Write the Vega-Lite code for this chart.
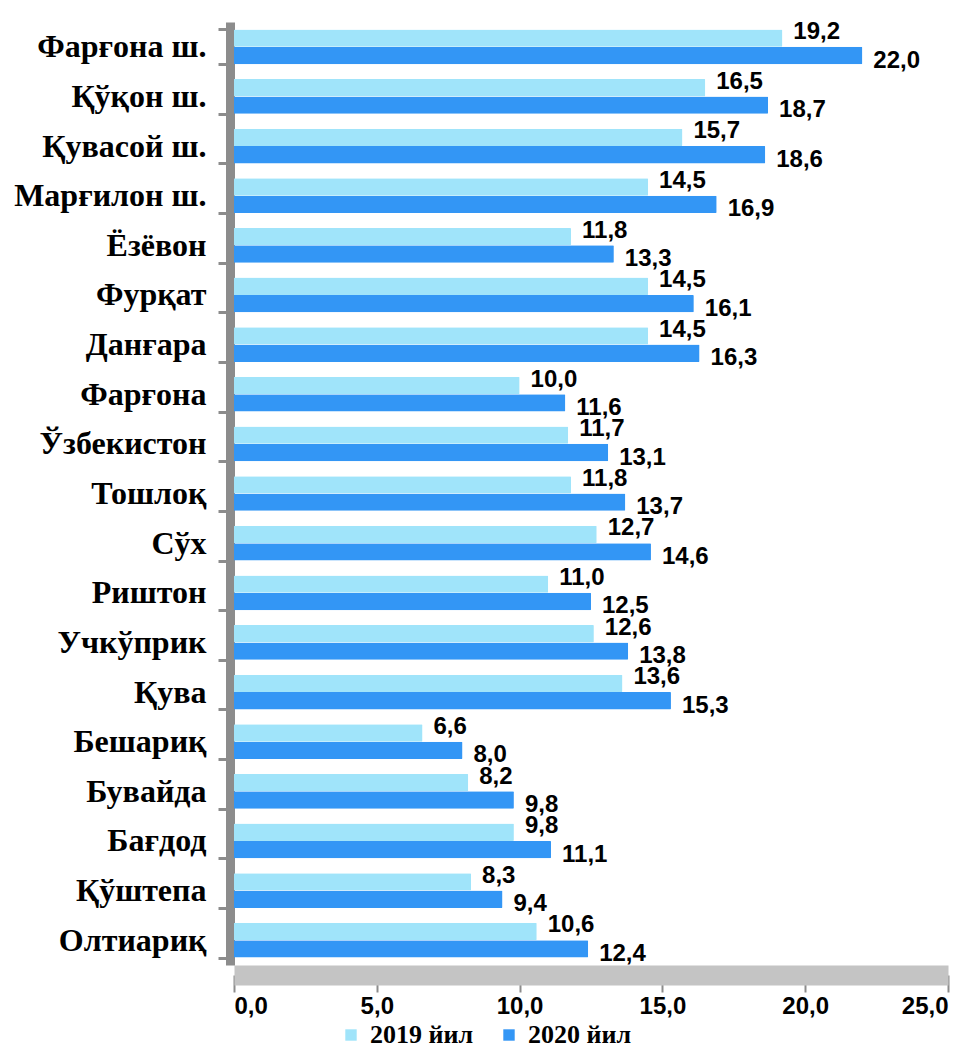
{
  "$schema": "https://vega.github.io/schema/vega-lite/v6.json",
  "width": 714,
  "height": 943,
  "autosize": {"type": "none"},
  "padding": {"left": 234, "top": 22, "right": 21, "bottom": 85},
  "config": {
    "view": {"stroke": null},
    "locale": {"number": {"decimal": ",", "thousands": " ", "grouping": [3], "currency": ["", ""]}}
  },
  "data": {"values": [
    {"region": "Фарғона ш.", "year": "2019 йил", "value": 19.2},
    {"region": "Фарғона ш.", "year": "2020 йил", "value": 22.0},
    {"region": "Қўқон ш.", "year": "2019 йил", "value": 16.5},
    {"region": "Қўқон ш.", "year": "2020 йил", "value": 18.7},
    {"region": "Қувасой ш.", "year": "2019 йил", "value": 15.7},
    {"region": "Қувасой ш.", "year": "2020 йил", "value": 18.6},
    {"region": "Марғилон ш.", "year": "2019 йил", "value": 14.5},
    {"region": "Марғилон ш.", "year": "2020 йил", "value": 16.9},
    {"region": "Ёзёвон", "year": "2019 йил", "value": 11.8},
    {"region": "Ёзёвон", "year": "2020 йил", "value": 13.3},
    {"region": "Фурқат", "year": "2019 йил", "value": 14.5},
    {"region": "Фурқат", "year": "2020 йил", "value": 16.1},
    {"region": "Данғара", "year": "2019 йил", "value": 14.5},
    {"region": "Данғара", "year": "2020 йил", "value": 16.3},
    {"region": "Фарғона", "year": "2019 йил", "value": 10.0},
    {"region": "Фарғона", "year": "2020 йил", "value": 11.6},
    {"region": "Ўзбекистон", "year": "2019 йил", "value": 11.7},
    {"region": "Ўзбекистон", "year": "2020 йил", "value": 13.1},
    {"region": "Тошлоқ", "year": "2019 йил", "value": 11.8},
    {"region": "Тошлоқ", "year": "2020 йил", "value": 13.7},
    {"region": "Сўх", "year": "2019 йил", "value": 12.7},
    {"region": "Сўх", "year": "2020 йил", "value": 14.6},
    {"region": "Риштон", "year": "2019 йил", "value": 11.0},
    {"region": "Риштон", "year": "2020 йил", "value": 12.5},
    {"region": "Учкўприк", "year": "2019 йил", "value": 12.6},
    {"region": "Учкўприк", "year": "2020 йил", "value": 13.8},
    {"region": "Қува", "year": "2019 йил", "value": 13.6},
    {"region": "Қува", "year": "2020 йил", "value": 15.3},
    {"region": "Бешариқ", "year": "2019 йил", "value": 6.6},
    {"region": "Бешариқ", "year": "2020 йил", "value": 8.0},
    {"region": "Бувайда", "year": "2019 йил", "value": 8.2},
    {"region": "Бувайда", "year": "2020 йил", "value": 9.8},
    {"region": "Бағдод", "year": "2019 йил", "value": 9.8},
    {"region": "Бағдод", "year": "2020 йил", "value": 11.1},
    {"region": "Қўштепа", "year": "2019 йил", "value": 8.3},
    {"region": "Қўштепа", "year": "2020 йил", "value": 9.4},
    {"region": "Олтиариқ", "year": "2019 йил", "value": 10.6},
    {"region": "Олтиариқ", "year": "2020 йил", "value": 12.4}
  ]},
  "encoding": {
    "y": {
      "field": "region", "type": "nominal", "sort": null, "title": null,
      "scale": {"paddingInner": 0.3, "paddingOuter": 0.15},
      "axis": {
        "offset": 4, "domainColor": "#8C8C8C", "domainWidth": 9,
        "tickBand": "extent", "tickColor": "#8C8C8C", "tickSize": 12, "tickWidth": 3,
        "labelFont": "Liberation Serif", "labelFontWeight": "bold", "labelFontSize": 32,
        "labelColor": "#000000", "labelPadding": 12, "labelLimit": 300
      }
    },
    "x": {
      "field": "value", "type": "quantitative", "title": null,
      "scale": {"domain": [0, 25], "nice": false},
      "axis": {
        "values": [0, 5, 10, 15, 20, 25], "format": ".1f", "grid": false,
        "offset": 10, "domainColor": "#C4C4C4", "domainWidth": 20,
        "tickColor": "#8C8C8C", "tickSize": 17, "tickWidth": 2,
        "labelFont": "Liberation Sans", "labelFontWeight": "bold", "labelFontSize": 24,
        "labelColor": "#000000", "labelPadding": 2
      }
    },
    "yOffset": {"field": "year", "type": "nominal", "sort": ["2019 йил", "2020 йил"]}
  },
  "layer": [
    {
      "mark": {"type": "bar", "cornerRadiusEnd": 1},
      "encoding": {
        "color": {
          "field": "year", "type": "nominal",
          "scale": {"domain": ["2019 йил", "2020 йил"], "range": ["#A0E4FA", "#3396F5"]},
          "legend": {
            "title": null, "orient": "none", "direction": "horizontal",
            "legendX": 104, "legendY": 1000,
            "symbolType": "square", "symbolSize": 130, "symbolOpacity": 1,
            "labelFont": "Liberation Serif", "labelFontWeight": "bold", "labelFontSize": 26,
            "labelColor": "#000000", "columnPadding": 22, "labelOffset": 6
          }
        }
      }
    },
    {
      "transform": [{"filter": "datum.year === '2019 йил'"}],
      "mark": {"type": "text", "align": "left", "baseline": "middle", "dx": 11, "dy": -6,
               "font": "Liberation Sans", "fontWeight": "bold", "fontSize": 24, "color": "#000000"},
      "encoding": {"text": {"field": "value", "type": "quantitative", "format": ".1f"}}
    },
    {
      "transform": [{"filter": "datum.year === '2020 йил'"}],
      "mark": {"type": "text", "align": "left", "baseline": "middle", "dx": 11, "dy": 5,
               "font": "Liberation Sans", "fontWeight": "bold", "fontSize": 24, "color": "#000000"},
      "encoding": {"text": {"field": "value", "type": "quantitative", "format": ".1f"}}
    }
  ]
}
